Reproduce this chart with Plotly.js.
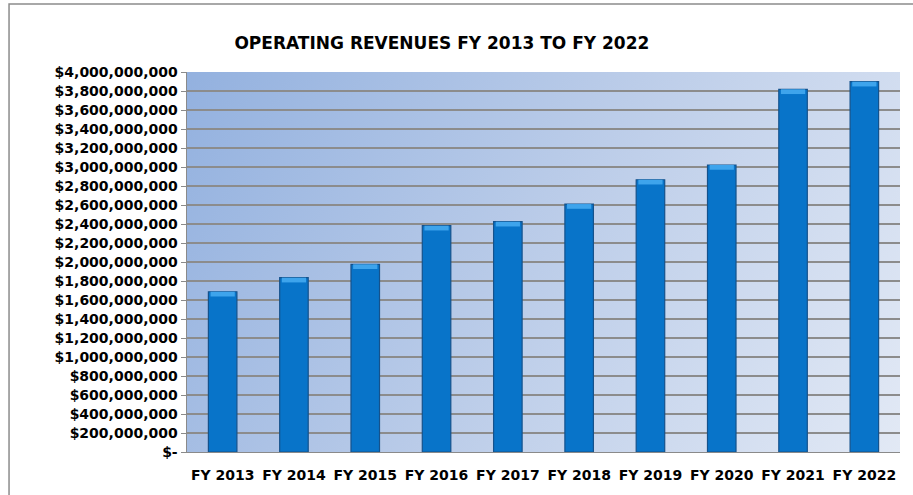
<!DOCTYPE html>
<html>
<head>
<meta charset="utf-8">
<script src="https://cdn.plot.ly/plotly-3.0.1.min.js"></script>
<style>
  html, body { margin: 0; padding: 0; background: #ffffff; }
  #chart { width: 913px; height: 495px; }
</style>
</head>
<body>
<div id="chart"></div>
<script>
// ---- data ----
const categories = ["FY 2013", "FY 2014", "FY 2015", "FY 2016", "FY 2017",
                    "FY 2018", "FY 2019", "FY 2020", "FY 2021", "FY 2022"];
const revenues = [1687000000, 1835000000, 1976000000, 2382000000, 2424000000,
                  2610000000, 2866000000, 3021000000, 3818000000, 3898000000];
const yTickVals = [0, 200000000, 400000000, 600000000, 800000000, 1000000000,
                   1200000000, 1400000000, 1600000000, 1800000000, 2000000000,
                   2200000000, 2400000000, 2600000000, 2800000000, 3000000000,
                   3200000000, 3400000000, 3600000000, 3800000000, 4000000000];
const yTickText = ["$-", "$200,000,000", "$400,000,000", "$600,000,000", "$800,000,000",
                   "$1,000,000,000", "$1,200,000,000", "$1,400,000,000", "$1,600,000,000",
                   "$1,800,000,000", "$2,000,000,000", "$2,200,000,000", "$2,400,000,000",
                   "$2,600,000,000", "$2,800,000,000", "$3,000,000,000", "$3,200,000,000",
                   "$3,400,000,000", "$3,600,000,000", "$3,800,000,000", "$4,000,000,000"];
const chartTitle = "OPERATING REVENUES FY 2013 TO FY 2022";

// ---- plot-area gradient background ----
function gradientImage() {
  const c = document.createElement("canvas");
  c.width = 713; c.height = 380;
  const ctx = c.getContext("2d");
  const g = ctx.createLinearGradient(0, 0, 713, 380);
  g.addColorStop(0, "#93b1df");
  g.addColorStop(0.5, "#bccde9");
  g.addColorStop(1, "#e2e9f5");
  ctx.fillStyle = g;
  ctx.fillRect(0, 0, 713, 380);
  return c.toDataURL("image/png");
}

const capSize = 50000000;
const capBase = revenues.map(v => v - capSize);
const capVals = revenues.map(() => capSize);

const font = "DejaVu Sans, Liberation Sans, sans-serif";

const traces = [
  {
    type: "bar",
    x: categories,
    y: revenues,
    width: 0.4,
    marker: { color: "#0874c9", line: { color: "#15528c", width: 1.2 } },
    hoverinfo: "skip"
  },
  {
    type: "bar",
    x: categories,
    y: capVals,
    base: capBase,
    width: 0.34,
    marker: { color: "#3ea4ec", line: { width: 0 } },
    hoverinfo: "skip"
  }
];

const layout = {
  width: 913,
  height: 495,
  margin: { l: 187, r: 13, t: 72, b: 43, pad: 0 },
  paper_bgcolor: "#ffffff",
  plot_bgcolor: "rgba(0,0,0,0)",
  showlegend: false,
  barmode: "overlay",
  title: {
    text: "<b>" + chartTitle + "</b>",
    font: { family: font, size: 17, color: "#000000" },
    xref: "container", x: 0.484, xanchor: "center",
    yref: "container", y: 0.913, yanchor: "middle"
  },
  xaxis: {
    type: "category",
    showgrid: false,
    showline: true,
    linecolor: "#8a8a8a",
    linewidth: 1,
    ticks: "",
    ticklabelstandoff: 10,
    tickfont: { family: font, size: 14, color: "#000000", weight: "bold" },
    fixedrange: true
  },
  yaxis: {
    range: [0, 4000000000],
    tickvals: yTickVals,
    ticktext: yTickText,
    showgrid: true,
    gridcolor: "#8c8c8c",
    gridwidth: 1.3,
    zeroline: false,
    showline: true,
    linecolor: "#8a8a8a",
    linewidth: 1.5,
    ticks: "outside",
    ticklen: 5,
    tickcolor: "#8a8a8a",
    tickfont: { family: font, size: 14, color: "#000000", weight: "bold" },
    fixedrange: true
  },
  images: [{
    source: gradientImage(),
    xref: "paper", yref: "paper",
    x: 0, y: 1, sizex: 1, sizey: 1,
    sizing: "stretch", xanchor: "left", yanchor: "top",
    layer: "below"
  }],
  shapes: [{
    type: "rect",
    xref: "paper", yref: "paper",
    x0: -0.2496, x1: 1.2, y0: -0.4, y1: 1.1789,
    line: { color: "#8c8c8c", width: 1.5 },
    fillcolor: "rgba(0,0,0,0)",
    layer: "above"
  }]
};

Plotly.newPlot("chart", traces, layout, { displayModeBar: false, staticPlot: true });
</script>
</body>
</html>
